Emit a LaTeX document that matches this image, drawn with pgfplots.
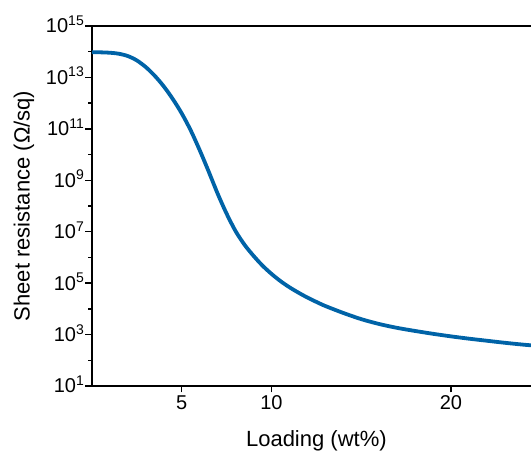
\documentclass[border=0pt]{standalone}
\usepackage{pgfplots}
\pgfplotsset{compat=1.18}
\usepackage{fontspec}
\setmainfont{Liberation Sans}
\definecolor{curveblue}{RGB}{0,99,167}

\begin{document}
\begin{tikzpicture}
\begin{axis}[
  name=ax,
  scale only axis,
  width=448.75pt, height=360pt,
  xmin=0, xmax=25,
  ymode=log, ymin=1e1, ymax=1e15,
  axis x line*=bottom, axis y line*=left,
  axis line style={line width=1.6pt, -},
  tick align=outside,
  xtick={5,10,20},
  ytick={1e1,1e3,1e5,1e7,1e9,1e11,1e13,1e15},
  yticklabels={10\textsuperscript{1},10\textsuperscript{3},10\textsuperscript{5},10\textsuperscript{7},10\textsuperscript{9},10\textsuperscript{11},10\textsuperscript{13},10\textsuperscript{15}},
  minor ytick={1e2,1e4,1e6,1e8,1e10,1e12,1e14},
  major tick length=6.5pt, minor tick length=3.5pt,
  every tick/.style={black, line width=1.5pt},
  tick label style={font=\fontsize{20}{24}\selectfont},
  yticklabel style={anchor=base east, yshift=-7pt, inner sep=1pt},
  xticklabel style={anchor=north, inner sep=3pt},
  /pgf/number format/assume math mode=true,
  xlabel={Loading (wt\%)},
  ylabel={Sheet resistance (Ω/sq)},
  label style={font=\fontsize{22}{26}\selectfont},
  xlabel style={at={(axis description cs:0.5,0)}, anchor=base, yshift=-61pt},
  ylabel style={at={(axis description cs:-0.1515,0.5)}, anchor=center},
]
\addplot[curveblue, line width=3.8pt, smooth] coordinates {
  (0,9.55e13) (0.5,9.44e13) (1.0,9.12e13) (1.5,8.32e13) (2.0,6.76e13)
  (2.5,4.57e13) (3.0,2.51e13) (3.5,1.15e13) (4.0,4.47e12) (4.5,1.45e12)
  (5.0,3.98e11) (5.5,8.71e10) (6.0,1.48e10) (6.5,2.19e9) (7.0,3.02e8)
  (7.5,5.01e7) (8.0,1.05e7) (8.5,3.09e6) (9.0,1.15e6) (9.5,4.79e5)
  (10.0,2.29e5) (10.5,1.20e5) (11.0,6.92e4) (11.5,4.27e4) (12.0,2.75e4)
  (12.5,1.86e4) (13.0,1.29e4) (14.0,6.92e3) (15.0,3.98e3) (16.0,2.57e3)
  (17.0,1.82e3) (18.0,1.38e3) (19.0,1.07e3) (20.0,851) (21.0,692)
  (22.0,575) (23.0,479) (24.0,407) (25.0,355)
};
\end{axis}
\draw[line width=1.6pt] (ax.north west) -- (ax.north east);
\pgfresetboundingbox
\path[use as bounding box] ([xshift=-92pt,yshift=-68pt]ax.south west) rectangle ([xshift=439pt,yshift=26pt]ax.north west);
\end{tikzpicture}
\end{document}
